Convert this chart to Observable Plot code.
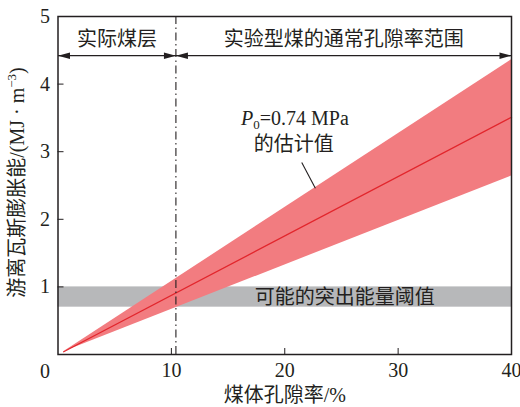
<!DOCTYPE html>
<html>
<head>
<meta charset="utf-8">
<script src="https://cdn.jsdelivr.net/npm/d3@7"></script>
<script src="https://cdn.jsdelivr.net/npm/@observablehq/plot@0.6"></script>
<style>
  html, body { margin: 0; padding: 0; background: #fff; }
  #chart { width: 520px; height: 407px; }
</style>
</head>
<body>
<div id="chart"></div>
<script>
// Coal porosity (%) and free-gas expansion energy (MJ/m^3)
const porosity = [0.5, 40];
const energyEstimate = [0.04, 3.51];
const energyLow = [0.04, 2.64];
const energyHigh = [0.04, 4.36];

// Possible outburst energy threshold band (MJ/m^3)
const thresholdRange = [0.7, 1.0];
// Boundary between actual seam porosity and briquette porosity (%)
const seamLimit = 10.4;
const arrowLevel = 4.42;

const xTicks = [10, 20, 30, 40];
const yTicks = [1, 2, 3, 4, 5];

const regionLabels = ["实际煤层", "实验型煤的通常孔隙率范围"];
const regionCenters = [5.2, 25.2];
const thresholdLabel = "可能的突出能量阈值";
const noteLines = ["P0=0.74 MPa", "的估计值"];
const yTitle = "游离瓦斯膨胀能/(MJ · m-3)";
const xTitle = "煤体孔隙率/%";

const band = porosity.map((p, i) => ({p, lo: energyLow[i], hi: energyHigh[i], mid: energyEstimate[i]}));
const spans = [
  {x1: 0, x2: seamLimit},
  {x1: seamLimit, x2: 40}
];

const ink = "#231f20";
const headRight = {draw(ctx) { ctx.moveTo(0, 0); ctx.lineTo(-12, -3.2); ctx.lineTo(-12, 3.2); ctx.closePath(); }};
const headLeft = {draw(ctx) { ctx.moveTo(0, 0); ctx.lineTo(12, -3.2); ctx.lineTo(12, 3.2); ctx.closePath(); }};

const chart = Plot.plot({
  width: 520,
  height: 407,
  marginLeft: 57.5,
  marginRight: 9,
  marginTop: 16,
  marginBottom: 53,
  style: {fontFamily: "'Liberation Serif', 'Noto Sans CJK SC', serif", fontSize: "20px", color: ink, background: "#fff"},
  x: {domain: [0, 40], label: null},
  y: {domain: [0, 5], label: null},
  marks: [
    Plot.rect([thresholdRange], {x1: () => 0, x2: () => 40, y1: d => d[0], y2: d => d[1], fill: "#b7b8ba"}),
    Plot.areaY(band, {x: "p", y1: "lo", y2: "hi", fill: "#f27c80"}),
    Plot.line(band, {x: "p", y: "mid", stroke: "#e2262c", strokeWidth: 1.3}),
    Plot.ruleX([seamLimit], {y1: 0, y2: 5, stroke: ink, strokeWidth: 1.1, strokeDasharray: "8,3.5,1.5,3.5"}),
    Plot.link(spans, {x1: "x1", x2: "x2", y1: () => arrowLevel, y2: () => arrowLevel, stroke: ink, strokeWidth: 1.2}),
    Plot.dot(spans, {x: "x1", y: () => arrowLevel, symbol: headLeft, fill: ink, stroke: null}),
    Plot.dot(spans, {x: "x2", y: () => arrowLevel, symbol: headRight, fill: ink, stroke: null}),
    Plot.text(regionLabels, {x: (d, i) => regionCenters[i], y: () => 4.66, text: d => d, fill: ink}),
    Plot.text([thresholdLabel], {x: () => 25.3, y: () => 0.84, text: d => d, fill: ink}),
    Plot.text([noteLines[0]], {x: () => 20.9, y: () => 3.49, text: d => d, fill: ink}),
    Plot.text([noteLines[1]], {x: () => 20.8, y: () => 3.11, text: d => d, fill: ink}),
    Plot.link([{x1: 21.5, y1: 2.84, x2: 22.7, y2: 2.46}], {x1: "x1", y1: "y1", x2: "x2", y2: "y2", stroke: ink, strokeWidth: 1.1}),
    Plot.axisX({ticks: [10, 20, 30], tickSize: -6, tickFormat: () => "", stroke: ink}),
    Plot.axisX({ticks: xTicks, tickSize: 0, tickPadding: 8, tickFormat: d => String(d), fill: ink}),
    Plot.axisY({ticks: [1, 2, 3, 4], tickSize: -6, tickFormat: () => "", stroke: ink}),
    Plot.axisY({ticks: yTicks, tickSize: 0, tickPadding: 8, tickFormat: d => String(d), fill: ink}),
    Plot.text(["0"], {x: () => 0, y: () => 0, text: d => d, dx: -13, dy: 17, fill: ink}),
    Plot.text([xTitle], {frameAnchor: "bottom", lineAnchor: "middle", text: d => d, dy: 41, fill: ink}),
    Plot.text([yTitle], {frameAnchor: "left", textAnchor: "middle", lineAnchor: "middle", text: d => d, rotate: -90, dx: -40, dy: -3, fill: ink}),
    Plot.frame({stroke: ink, strokeWidth: 1.5})
  ]
});

// Rich text: italic P with subscript 0, and the m^-3 exponent
d3.select(chart).selectAll("text").each(function () {
  const t = this.textContent;
  if (t === noteLines[0]) {
    this.textContent = "";
    const s = d3.select(this);
    s.append("tspan").attr("font-style", "italic").text("P");
    s.append("tspan").attr("font-size", 13).attr("dy", 4).text("0");
    s.append("tspan").attr("dy", -4).text("=0.74 MPa");
  } else if (t === yTitle) {
    this.textContent = "";
    const s = d3.select(this);
    s.append("tspan").text("游离瓦斯膨胀能/(MJ · m");
    s.append("tspan").attr("font-size", 13).attr("dy", -8).text("−3");
    s.append("tspan").attr("dy", 8).text(")");
  }
});

document.getElementById("chart").appendChild(chart);
</script>
</body>
</html>
